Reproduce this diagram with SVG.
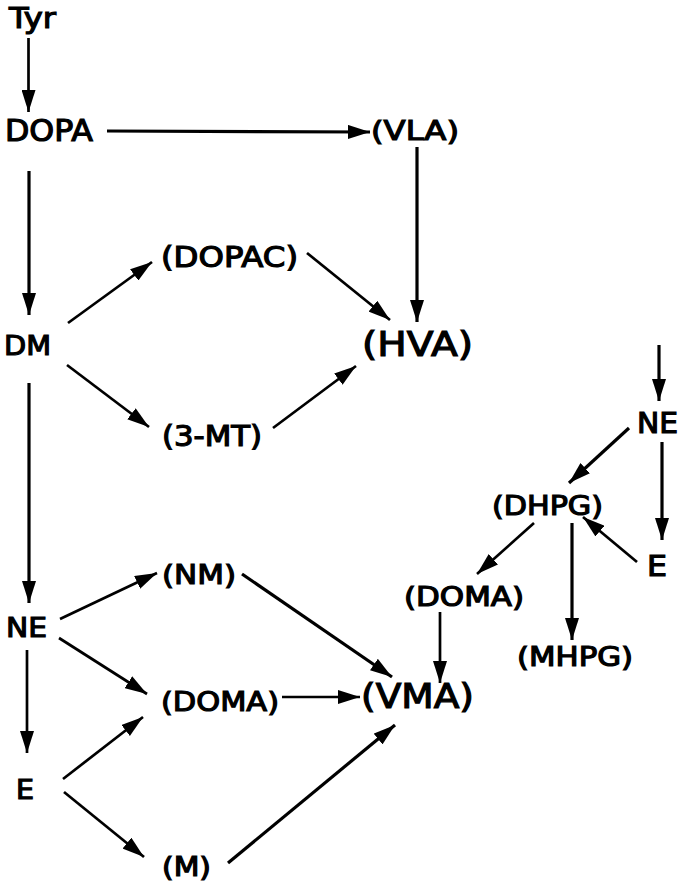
<svg xmlns="http://www.w3.org/2000/svg" width="679" height="885" viewBox="0 0 679 885">
  <style>
    text { font-family: "DejaVu Sans", "Liberation Sans", sans-serif; font-weight: normal; fill: #000; stroke: #000; stroke-width: 1.2; }
    .c { stroke: #000; stroke-width: 3.2; fill: none; marker-end: url(#ah); }
    .t { stroke-width: 2.7; }
  </style>
  <defs>
    <marker id="ah" markerUnits="userSpaceOnUse" markerWidth="24" markerHeight="14" refX="22" refY="7" orient="auto">
      <path d="M0,0 L22,7 L0,14 Z" fill="#000" stroke="none"/>
    </marker>
  </defs>
  <rect width="679" height="885" fill="#fff"/>

  <!-- pathway arrows -->
  <g id="connectors">
    <line class="c t" x1="28.5" y1="38" x2="28.5" y2="112"/>
    <line class="c" x1="107" y1="131" x2="370" y2="132"/>
    <line class="c" x1="29" y1="171" x2="29" y2="315"/>
    <line class="c" x1="417" y1="147" x2="417" y2="322"/>
    <line class="c t" x1="68" y1="323" x2="152" y2="262"/>
    <line class="c t" x1="307" y1="253" x2="390" y2="320"/>
    <line class="c t" x1="67" y1="365" x2="149" y2="427"/>
    <line class="c t" x1="273" y1="428" x2="356" y2="366"/>
    <line class="c" x1="29" y1="383" x2="29" y2="603"/>
    <line class="c t" x1="60" y1="619" x2="157" y2="573"/>
    <line class="c t" x1="59" y1="638" x2="147" y2="694"/>
    <line class="c t" x1="27" y1="650" x2="27" y2="753"/>
    <line class="c t" x1="63" y1="779" x2="143" y2="717"/>
    <line class="c t" x1="64" y1="792" x2="144" y2="857"/>
    <line class="c" x1="242" y1="574" x2="392" y2="677"/>
    <line class="c t" x1="282" y1="697" x2="360" y2="697"/>
    <line class="c" x1="228" y1="863" x2="395" y2="725"/>
    <line class="c t" x1="440" y1="612" x2="440" y2="683"/>
    <line class="c" x1="659" y1="345" x2="659" y2="401"/>
    <line class="c" x1="629" y1="428" x2="569" y2="483"/>
    <line class="c" x1="662" y1="442" x2="662" y2="540"/>
    <line class="c t" x1="637" y1="562" x2="583" y2="517"/>
    <line class="c t" x1="534" y1="523" x2="477" y2="574"/>
    <line class="c" x1="572" y1="523" x2="572" y2="640"/>
  </g>

  <!-- compounds -->
  <g id="tyr"><text x="9" y="28" font-size="29" textLength="47" lengthAdjust="spacingAndGlyphs">Tyr</text></g>
  <g id="dopa"><text x="5" y="141" font-size="30" textLength="88" lengthAdjust="spacingAndGlyphs">DOPA</text></g>
  <g id="vla"><text x="371" y="140" font-size="27" textLength="88" lengthAdjust="spacingAndGlyphs">(VLA)</text></g>
  <g id="dopac"><text x="161" y="267" font-size="28" textLength="137" lengthAdjust="spacingAndGlyphs">(DOPAC)</text></g>
  <g id="dm"><text x="4" y="355" font-size="27" textLength="47" lengthAdjust="spacingAndGlyphs">DM</text></g>
  <g id="hva"><text x="362" y="356" font-size="34" textLength="111" lengthAdjust="spacingAndGlyphs">(HVA)</text></g>
  <g id="mt3"><text x="162" y="446" font-size="28" textLength="100" lengthAdjust="spacingAndGlyphs">(3-MT)</text></g>
  <g id="ne-right"><text x="637" y="433" font-size="28" textLength="41" lengthAdjust="spacingAndGlyphs">NE</text></g>
  <g id="dhpg"><text x="492" y="515" font-size="26" textLength="111" lengthAdjust="spacingAndGlyphs">(DHPG)</text></g>
  <g id="e-right"><text x="647" y="576" font-size="28" textLength="20" lengthAdjust="spacingAndGlyphs">E</text></g>
  <g id="doma-right"><text x="404" y="606" font-size="26" textLength="120" lengthAdjust="spacingAndGlyphs">(DOMA)</text></g>
  <g id="mhpg"><text x="517" y="666" font-size="26" textLength="116" lengthAdjust="spacingAndGlyphs">(MHPG)</text></g>
  <g id="nm"><text x="162" y="584" font-size="27" textLength="74" lengthAdjust="spacingAndGlyphs">(NM)</text></g>
  <g id="ne-left"><text x="6" y="637" font-size="27" textLength="41" lengthAdjust="spacingAndGlyphs">NE</text></g>
  <g id="doma-left"><text x="161" y="711" font-size="27" textLength="118" lengthAdjust="spacingAndGlyphs">(DOMA)</text></g>
  <g id="vma"><text x="361" y="708" font-size="34" textLength="113" lengthAdjust="spacingAndGlyphs">(VMA)</text></g>
  <g id="e-left"><text x="16" y="799" font-size="26" textLength="18" lengthAdjust="spacingAndGlyphs">E</text></g>
  <g id="m"><text x="162" y="876" font-size="26" textLength="49" lengthAdjust="spacingAndGlyphs">(M)</text></g>
</svg>
